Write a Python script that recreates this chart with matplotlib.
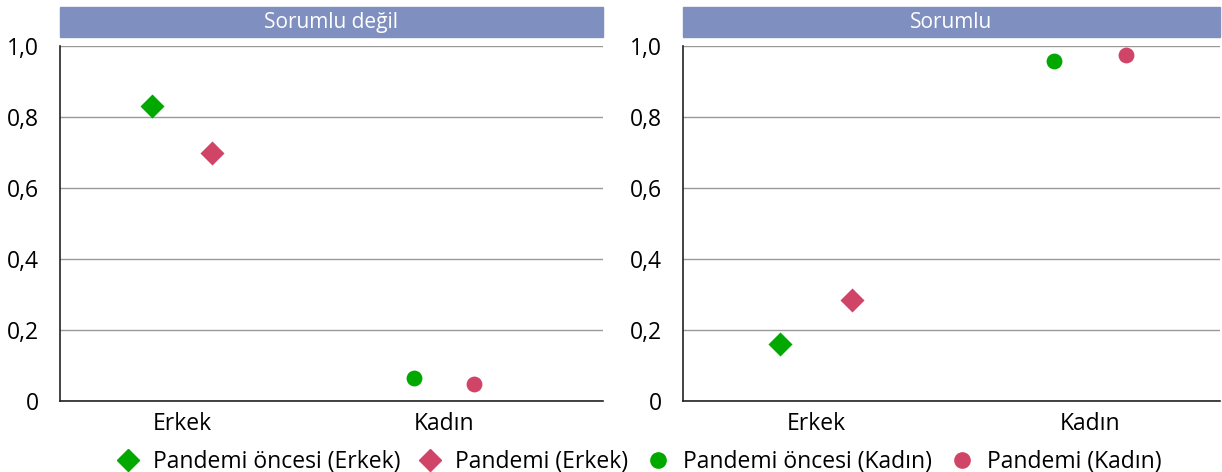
import matplotlib
matplotlib.use("Agg")
import matplotlib.pyplot as plt
from matplotlib.patches import Rectangle
from matplotlib.lines import Line2D

plt.rcParams["font.family"] = ["Open Sans", "DejaVu Sans"]

panels = ["Sorumlu değil", "Sorumlu"]
categories = ["Erkek", "Kadın"]
series = ["Pandemi öncesi (Erkek)", "Pandemi (Erkek)",
          "Pandemi öncesi (Kadın)", "Pandemi (Kadın)"]
# values per panel: pre-pandemic men, pandemic men, pre-pandemic women, pandemic women
sorumlu_degil = [0.83, 0.70, 0.065, 0.048]
sorumlu = [0.16, 0.285, 0.958, 0.975]
y_ticks = [0, 0.2, 0.4, 0.6, 0.8, 1.0]
y_labels = ["0", "0,2", "0,4", "0,6", "0,8", "1,0"]

GREEN = "#00a800"
RED = "#d04468"
HEADER = "#7f8fc0"
styles = [("D", GREEN), ("D", RED), ("o", GREEN), ("o", RED)]
cat_idx = [0, 0, 1, 1]
signs = [-1, 1, -1, 1]

fig = plt.figure(figsize=(12.22, 4.72), dpi=100)
H, W = 472, 1222
boxes = [(60, 603), (683, 1220)]
xlims = [(-0.466, 1.607), (-0.485, 1.474)]
offsets = [0.115, 0.13]
top, bottom = 46, 401
FS = 16.5

for (x0, x1), xl, off, title, vals in zip(boxes, xlims, offsets, panels,
                                         [sorumlu_degil, sorumlu]):
    ax = fig.add_axes([x0 / W, 1 - bottom / H, (x1 - x0) / W, (bottom - top) / H])
    for v, (m, c), ci, sg in zip(vals, styles, cat_idx, signs):
        ax.scatter(ci + sg * off, v, marker=m, color=c, s=150 if m == "D" else 130,
                   zorder=3, linewidths=0)
    ax.set_ylim(0, 1.0)
    ax.set_xlim(*xl)
    ax.set_yticks(y_ticks)
    ax.set_yticklabels(y_labels, fontsize=FS)
    ax.set_xticks([0, 1])
    ax.set_xticklabels(categories, fontsize=FS)
    ax.tick_params(length=0, pad=8)
    ax.tick_params(axis="y", pad=15)
    ax.grid(axis="y", color="#999999", linewidth=1)
    ax.set_axisbelow(True)
    for s in ["top", "right"]:
        ax.spines[s].set_visible(False)
    for s in ["left", "bottom"]:
        ax.spines[s].set_color("#222222")
        ax.spines[s].set_linewidth(1.2)
    ax.add_patch(Rectangle((0, 1.025), 1.0, 0.085, transform=ax.transAxes,
                           color=HEADER, clip_on=False))
    ax.text(0.5, 1.067, title, transform=ax.transAxes, ha="center",
            va="center", color="white", fontsize=15)

handles = [Line2D([], [], marker=m, color=c, linestyle="none", markersize=11)
           for m, c in styles]
fig.legend(handles, series, loc="center", bbox_to_anchor=(0.522, 0.022), ncol=4,
           frameon=False, fontsize=FS, handletextpad=0.5, columnspacing=0.7,
           borderpad=0, handlelength=1.2)

fig.savefig("out.png", dpi=100)
